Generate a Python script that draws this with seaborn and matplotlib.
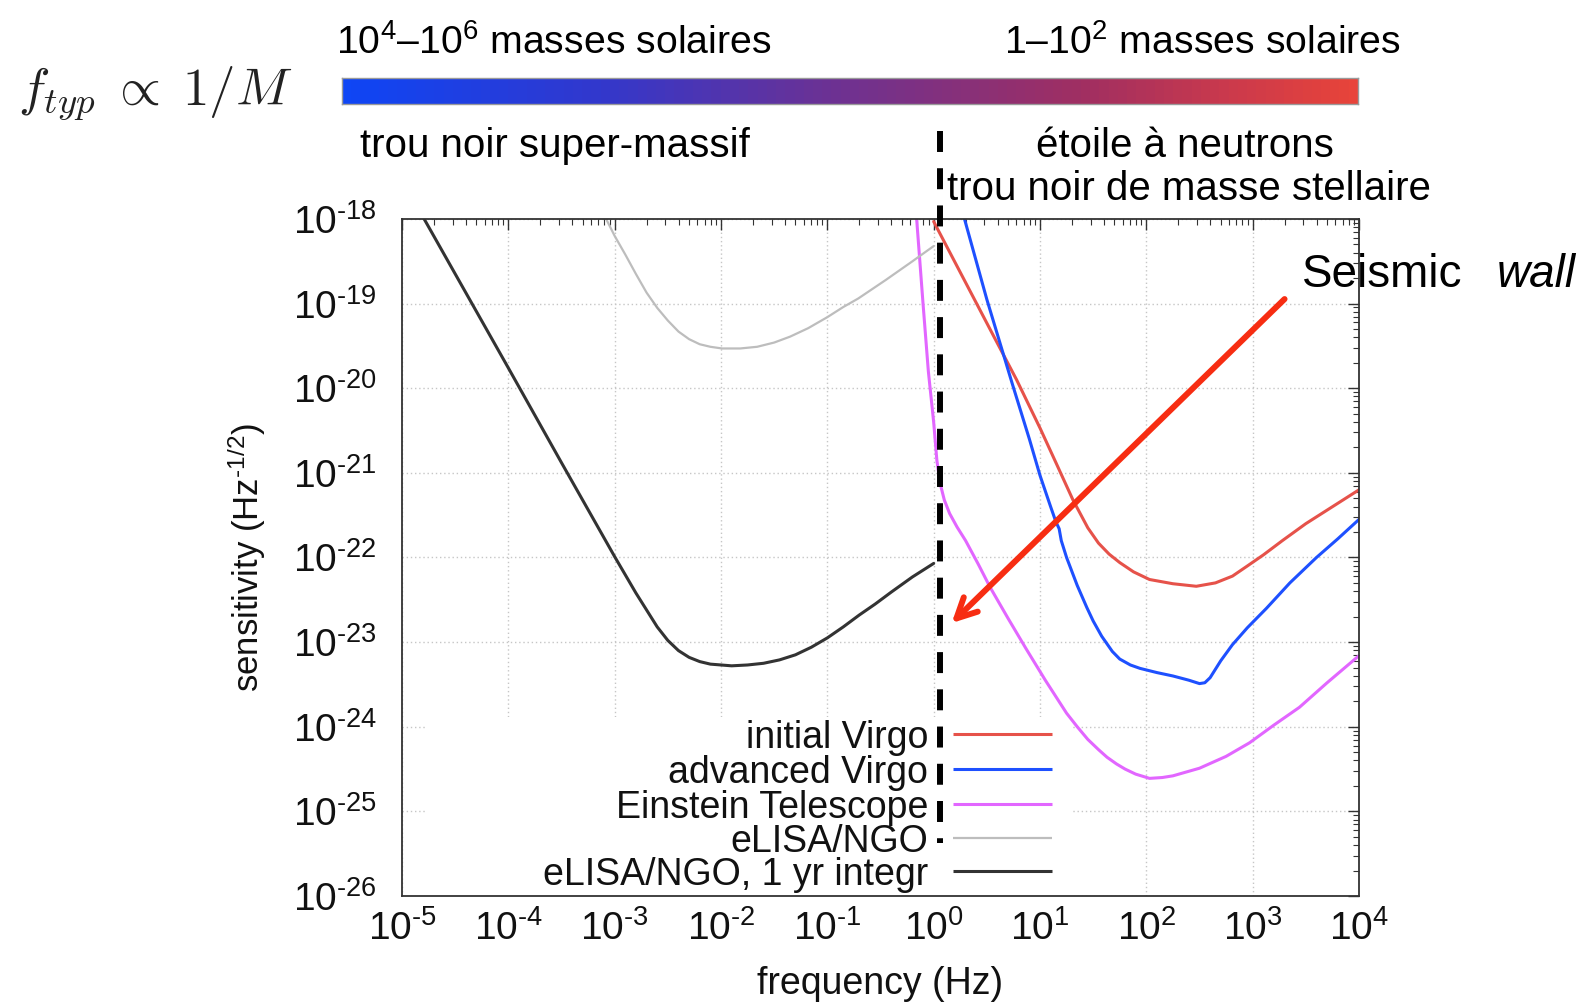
import numpy as np
import pandas as pd
import matplotlib
matplotlib.use("Agg")
import matplotlib.pyplot as plt
from matplotlib.colors import LinearSegmentedColormap
from matplotlib.patches import Rectangle
import seaborn as sns

# ---- detector sensitivity curves (log10 frequency [Hz], log10 strain [Hz^-1/2]) ----
virgo_init_logf = [0.0, 0.3, 0.6, 0.78, 1.0, 1.15, 1.31, 1.45, 1.55, 1.65, 1.75, 1.88,
                   2.03, 2.25, 2.47, 2.65, 2.81, 2.95, 3.1, 3.28, 3.5, 3.75, 4.0]
virgo_init_logh = [-18.03, -18.75, -19.47, -19.9, -20.47, -20.88, -21.32, -21.65, -21.83,
                   -21.96, -22.06, -22.17, -22.26, -22.31, -22.34, -22.30, -22.22, -22.1,
                   -21.97, -21.8, -21.6, -21.4, -21.2]

virgo_adv_logf = [0.25, 0.29, 0.5, 0.74, 0.9, 1.0, 1.1, 1.15, 1.18, 1.2, 1.25, 1.35, 1.44,
                  1.5, 1.58, 1.68, 1.75, 1.85, 1.94, 2.1, 2.25, 2.4, 2.5, 2.55, 2.6, 2.7,
                  2.81, 2.95, 3.13, 3.35, 3.6, 3.8, 4.0]
virgo_adv_logh = [-17.8, -18.0, -18.95, -19.95, -20.6, -21.03, -21.4, -21.58, -21.66, -21.8,
                  -22.0, -22.33, -22.59, -22.75, -22.93, -23.11, -23.2, -23.27, -23.31,
                  -23.36, -23.4, -23.45, -23.49, -23.48, -23.42, -23.22, -23.03, -22.83,
                  -22.6, -22.3, -22.0, -21.78, -21.55]

et_logf = [-0.2, -0.16, -0.1, -0.05, 0.0, 0.03, 0.06, 0.1, 0.15, 0.22, 0.3, 0.42, 0.53, 0.7,
           0.87, 1.05, 1.25, 1.35, 1.45, 1.55, 1.63, 1.72, 1.8, 1.9, 2.03, 2.15, 2.25, 2.5,
           2.75, 2.97, 3.2, 3.44, 3.7, 4.0]
et_logh = [-17.5, -18.0, -19.0, -19.8, -20.4, -20.85, -21.12, -21.32, -21.48, -21.64, -21.8,
           -22.08, -22.35, -22.72, -23.08, -23.45, -23.84, -24.0, -24.15, -24.27, -24.36,
           -24.44, -24.5, -24.56, -24.61, -24.6, -24.58, -24.49, -24.35, -24.19, -23.98,
           -23.77, -23.48, -23.16]

elisa_logf = [-3.15, -3.08, -3.0, -2.9, -2.8, -2.7, -2.6, -2.5, -2.4, -2.3, -2.2, -2.1,
              -1.99, -1.82, -1.66, -1.5, -1.35, -1.18, -1.0, -0.85, -0.71, -0.45, -0.2, 0.0]
elisa_logh = [-17.85, -18.0, -18.2, -18.42, -18.65, -18.87, -19.05, -19.2, -19.33, -19.42,
              -19.48, -19.51, -19.53, -19.53, -19.51, -19.46, -19.39, -19.29, -19.16,
              -19.04, -18.94, -18.72, -18.5, -18.32]

elisa_1yr_logf = [-4.85, -4.0, -3.5, -3.0, -2.8, -2.7, -2.6, -2.5, -2.4, -2.3, -2.2, -2.1,
                  -1.9, -1.75, -1.6, -1.45, -1.3, -1.15, -1.0, -0.85, -0.7, -0.55, -0.4,
                  -0.2, 0.0]
elisa_1yr_logh = [-17.87, -19.76, -20.88, -21.99, -22.42, -22.62, -22.82, -22.98, -23.10,
                  -23.18, -23.23, -23.26, -23.28, -23.27, -23.25, -23.21, -23.15, -23.06,
                  -22.95, -22.82, -22.68, -22.55, -22.41, -22.23, -22.07]

series_labels = ["initial Virgo", "advanced Virgo", "Einstein Telescope", "eLISA/NGO",
                 "eLISA/NGO, 1 yr integr"]
series_colors = ["#e6524a", "#1e50ff", "#e266ff", "#bdbdbd", "#333333"]
series_widths = [2.2, 2.2, 2.2, 1.6, 2.2]

x_decades = list(range(-5, 5))
y_decades = list(range(-26, -17))

seismic_wall_logf = 0.063

# ---- style ----
sns.set_theme(style="white")
plt.rcParams["font.family"] = ["Liberation Sans", "DejaVu Sans"]
plt.rcParams["mathtext.fontset"] = "custom"
plt.rcParams["mathtext.rm"] = "Liberation Sans"
plt.rcParams["mathtext.it"] = "Liberation Sans:italic"
plt.rcParams["mathtext.bf"] = "Liberation Sans:bold"
plt.rcParams["mathtext.sf"] = "Liberation Sans"
plt.rcParams["axes.unicode_minus"] = False
plt.rcParams["lines.scale_dashes"] = False
plt.rcParams["text.color"] = "black"
plt.rcParams["axes.labelcolor"] = "black"

W, H = 1585, 1005
fig = plt.figure(figsize=(W / 100, H / 100), dpi=100)


def fx(px):
    return px / W


def fy(py):
    return 1 - py / H


# main axes
ax = fig.add_axes([fx(402), fy(896), (1359 - 402) / W, (896 - 219) / H])
ax.set_xscale("log")
ax.set_yscale("log")
ax.set_xlim(1e-5, 1e4)
ax.set_ylim(1e-26, 1e-18)

# dotted decade grid, drawn low so the key panel can mask it
for d in x_decades:
    ax.axvline(10.0 ** d, color="#c6c6c6", lw=1.0, ls=(0, (1, 2)), zorder=0.5)
for d in y_decades:
    ax.axhline(10.0 ** d, color="#c6c6c6", lw=1.0, ls=(0, (1, 2)), zorder=0.5)

# opaque key panel
ax.add_patch(Rectangle((0.026, 0.0), 0.675, 0.264, transform=ax.transAxes,
                       facecolor="white", edgecolor="none", zorder=0.8))

curves = [
    (virgo_init_logf, virgo_init_logh),
    (virgo_adv_logf, virgo_adv_logh),
    (et_logf, et_logh),
    (elisa_logf, elisa_logh),
    (elisa_1yr_logf, elisa_1yr_logh),
]
for (lf, lh), lab, col, lw in zip(curves, series_labels, series_colors, series_widths):
    df = pd.DataFrame({"frequency": 10.0 ** np.array(lf), "sensitivity": 10.0 ** np.array(lh)})
    sns.lineplot(data=df, x="frequency", y="sensitivity", ax=ax, color=col, lw=lw,
                 sort=False, estimator=None, legend=False, zorder=2)

# key: label text on the left, line sample on the right
key_rows = [734, 769, 804, 838, 871]
for lab, col, lw, row in zip(series_labels, series_colors, series_widths, key_rows):
    ya = (896 - row) / 677
    ax.plot([0.5758, 0.6792], [ya, ya], transform=ax.transAxes, color=col, lw=lw,
            solid_capstyle="butt", zorder=3)
    ax.text(0.5496, (896 - row - 13.5) / 677, lab, transform=ax.transAxes, ha="right",
            va="baseline", fontsize=27, color="#111111", zorder=3)


# ticks
def sci_fmt(v, pos):
    e = int(round(np.log10(v)))
    if e < 0:
        return r"$\mathdefault{10^{\text{-}%d}}$" % (-e)
    return r"$\mathdefault{10^{%d}}$" % e


ax.xaxis.set_major_formatter(matplotlib.ticker.FuncFormatter(sci_fmt))
ax.yaxis.set_major_formatter(matplotlib.ticker.FuncFormatter(sci_fmt))
ax.xaxis.set_major_locator(matplotlib.ticker.LogLocator(base=10, numticks=20))
ax.yaxis.set_major_locator(matplotlib.ticker.LogLocator(base=10, numticks=20))
ax.xaxis.set_minor_locator(matplotlib.ticker.LogLocator(base=10, subs=np.arange(2, 10), numticks=200))
ax.yaxis.set_minor_locator(matplotlib.ticker.LogLocator(base=10, subs=np.arange(2, 10), numticks=200))
ax.xaxis.set_minor_formatter(matplotlib.ticker.NullFormatter())
ax.yaxis.set_minor_formatter(matplotlib.ticker.NullFormatter())
ax.tick_params(which="both", direction="in", top=True, right=True, colors="#333333",
               labelcolor="#111111")
ax.tick_params(which="major", length=8, width=1.0, labelsize=28)
ax.tick_params(which="minor", length=4, width=0.8)
ax.tick_params(axis="y", which="major", pad=18)
ax.tick_params(axis="x", which="major", pad=10)
for s in ax.spines.values():
    s.set_color("#333333")
    s.set_linewidth(1.3)

ax.set_xlabel("frequency (Hz)", fontsize=27, color="#111111")
ax.set_ylabel(r"sensitivity (Hz$^{\text{-}1/2}$)", fontsize=25, color="#111111")
ax.xaxis.set_label_coords(0.5, -0.104)
ax.yaxis.set_label_coords(-0.140, 0.5)

# seismic wall marker
ax.plot([10 ** seismic_wall_logf] * 2, [10 ** -16.96, 10 ** -25.376], clip_on=False,
        color="black", lw=4.3, dashes=(15.1, 11.7), dash_capstyle="butt", zorder=5)

ax.annotate("", xy=(10 ** 0.169, 10 ** -22.775), xytext=(10 ** 3.30, 10 ** -18.946),
            arrowprops=dict(arrowstyle="->,head_length=0.72,head_width=0.36",
                            color="#f72d12", lw=4.3, mutation_scale=20,
                            shrinkA=0, shrinkB=0),
            annotation_clip=False, zorder=6)

fig.text(fx(1302), fy(287), "Seismic", fontsize=33, ha="left", va="baseline")
fig.text(fx(1576), fy(287), "wall", fontsize=33, ha="right", va="baseline", style="italic")

# mass scale gradient bar
cax = fig.add_axes([fx(342), fy(104), (1358 - 342) / W, (104 - 78) / H])
bar_cmap = LinearSegmentedColormap.from_list(
    "mass", [(0.0, "#0f46f5"), (0.25, "#3238cd"), (0.47, "#6a3296"), (0.73, "#a02f62"),
             (0.88, "#cc3a4c"), (1.0, "#e8443a")], N=110)
cax.imshow(np.linspace(0, 1, 110)[None, :], aspect="auto", cmap=bar_cmap,
           interpolation="nearest", extent=(0, 1, 0, 1))
cax.set_xticks([])
cax.set_yticks([])
for s in cax.spines.values():
    s.set_color("#9a9a9a")
    s.set_linewidth(1.0)

fig.text(fx(18), fy(105), r"$f_{typ}\;\propto\;1/M$", fontsize=38, math_fontfamily="cm",
         ha="left", va="baseline", color="#222222")
fig.text(fx(336), fy(54), r"$\mathdefault{10^{4}}$–$\mathdefault{10^{6}}$ masses solaires",
         fontsize=28.3, ha="left", va="baseline")
fig.text(fx(1004), fy(54), r"1–$\mathdefault{10^{2}}$ masses solaires",
         fontsize=28.3, ha="left", va="baseline")
fig.text(fx(360), fy(157), "trou noir super-massif", fontsize=29, ha="left", va="baseline")
fig.text(fx(1185), fy(157), "étoile à neutrons", fontsize=29, ha="center", va="baseline")
fig.text(fx(947), fy(200), "trou noir de masse stellaire", fontsize=29, ha="left",
         va="baseline")

fig.savefig("out.png", dpi=100, facecolor="white")
